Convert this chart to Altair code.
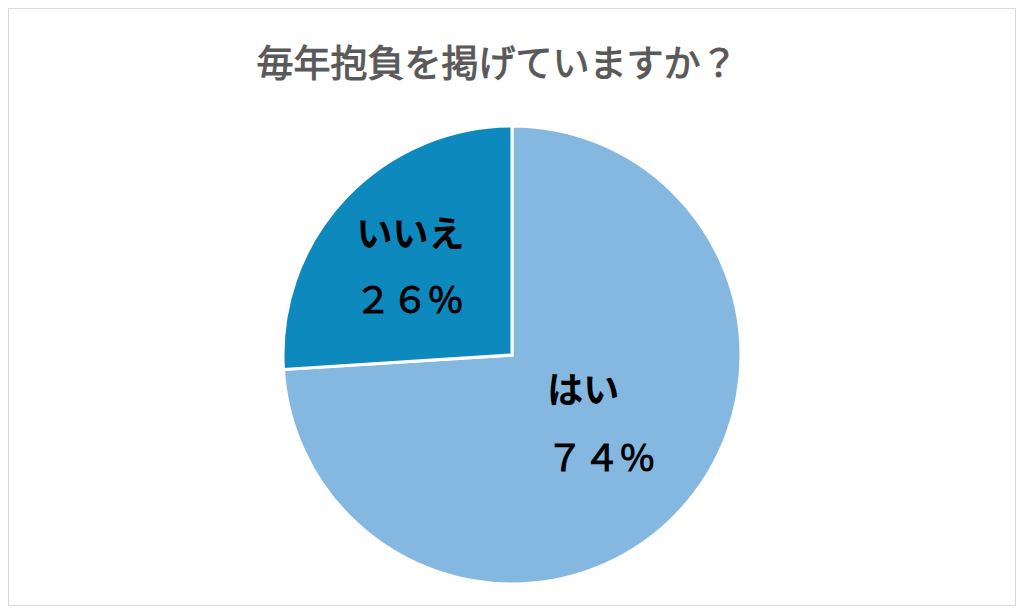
import altair as alt
import pandas as pd

categories = ["はい", "いいえ"]
values = [74, 26]
pct_labels = ["７４%", "２６%"]
order = [1, 2]
colors = ["#85B8E0", "#0E89BE"]
title_text = "毎年抱負を掲げていますか？"

df = pd.DataFrame({"cat": categories, "value": values, "pct": pct_labels, "order": order})

W, H = 1008, 598
CX, CY, R = 504, 347, 229
FONT = "Noto Sans CJK JP"
theta_scale = alt.Scale(domain=[0, 100], range=[0, 6.283185307179586])

base = alt.Chart(df)

pie = base.mark_arc(radius=R, stroke="white", strokeWidth=3).encode(
    theta=alt.Theta("value:Q", stack=True, scale=theta_scale),
    color=alt.Color("cat:N", scale=alt.Scale(domain=categories, range=colors), legend=None),
    order=alt.Order("order:Q"),
    x=alt.value(CX),
    y=alt.value(CY),
)

lab = base.transform_window(
    cum="sum(value)", sort=[alt.SortField("order")]
).transform_calculate(mid="datum.cum - datum.value / 2")


def label_layer(cat, field, r, dx, dy, size, weight, sw):
    return lab.transform_filter(alt.datum.cat == cat).mark_text(
        radius=r, dx=dx, dy=dy, font=FONT, fontSize=size, fontWeight=weight,
        color="black", stroke="black", strokeWidth=sw,
        align="center", baseline="middle",
    ).encode(
        theta=alt.Theta("mid:Q", scale=theta_scale),
        text=alt.Text(field),
        x=alt.value(CX),
        y=alt.value(CY),
    )


layers = [
    pie,
    label_layer("いいえ", "cat:N", 135, -3, -27, 36, "bold", 0),
    label_layer("いいえ", "pct:N", 135, -5, 39, 37, "normal", 0.9),
    label_layer("はい", "cat:N", 110, -9, -38, 36, "bold", 0),
    label_layer("はい", "pct:N", 110, 8, 30, 37, "normal", 0.9),
]

title = alt.Chart(pd.DataFrame({"t": [title_text]})).mark_text(
    font=FONT, fontSize=37, fontWeight="normal", color="#595959",
    stroke="#595959", strokeWidth=1.0,
    align="center", baseline="middle",
).encode(text="t:N", x=alt.value(489), y=alt.value(58))

chart = alt.layer(*layers, title).properties(
    width=W, height=H, padding=0, background="white",
    autosize=alt.AutoSizeParams(type="fit", contains="padding"),
).configure_view(stroke="#D9D9D9", strokeWidth=2)

chart.save("out.html", embed_options={"renderer": "svg", "actions": False})
